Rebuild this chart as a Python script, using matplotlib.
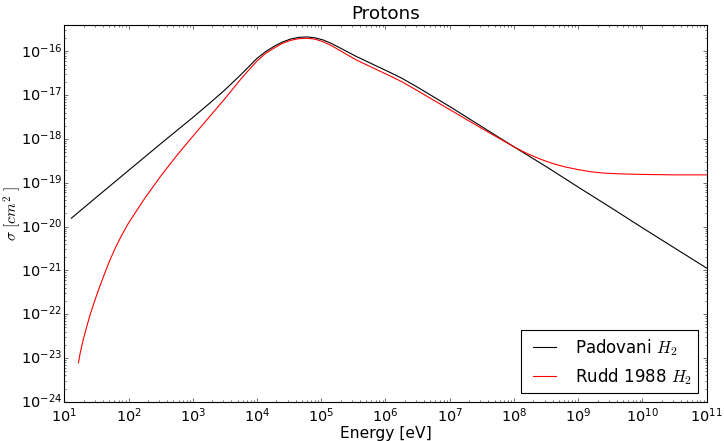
import numpy as np
import matplotlib
matplotlib.use("Agg")
import matplotlib.pyplot as plt

# values (log10 of energy in eV, log10 of sigma in cm^2)
pad_logE = [1.11, 1.5, 2.0, 2.5, 3.0, 3.25, 3.5, 3.75, 4.0, 4.13, 4.26, 4.39,
            4.52, 4.65, 4.78, 4.90, 5.03, 5.16, 5.29, 5.42, 5.55, 5.68, 5.81,
            5.94, 6.07, 6.25, 6.5, 7.0, 7.5, 8.0, 8.5, 9.0, 9.5, 10.0, 10.5,
            11.0]
pad_logsig = [-19.81, -19.33, -18.72, -18.11, -17.51, -17.20, -16.88, -16.53,
              -16.16, -16.01, -15.89, -15.79, -15.72, -15.68, -15.67, -15.69,
              -15.74, -15.82, -15.92, -16.02, -16.12, -16.21, -16.30, -16.39,
              -16.48, -16.61, -16.82, -17.26, -17.72, -18.18, -18.63, -19.10,
              -19.56, -20.03, -20.49, -20.95]

rudd_logE = [1.22, 1.25, 1.3, 1.4, 1.5, 1.6, 1.7, 1.8, 1.9, 2.0, 2.25, 2.5,
             2.75, 3.0, 3.25, 3.5, 3.75, 3.9, 4.0, 4.13, 4.26, 4.39, 4.52,
             4.65, 4.78, 4.90, 5.03, 5.16, 5.29, 5.42, 5.55, 5.68, 5.81, 5.94,
             6.07, 6.25, 6.5, 7.0, 7.5, 8.0, 8.2, 8.41, 8.6, 8.8, 9.0, 9.2,
             9.4, 9.7, 10.0, 10.5, 11.0]
rudd_logsig = [-23.11, -22.87, -22.55, -22.02, -21.58, -21.18, -20.80, -20.47,
               -20.18, -19.92, -19.36, -18.85, -18.38, -17.94, -17.51, -17.08,
               -16.63, -16.38, -16.22, -16.05, -15.93, -15.82, -15.75, -15.71,
               -15.70, -15.72, -15.78, -15.87, -15.98, -16.09, -16.20, -16.29,
               -16.38, -16.47, -16.56, -16.69, -16.90, -17.33, -17.76, -18.18,
               -18.33, -18.46, -18.56, -18.64, -18.70, -18.75, -18.78, -18.80,
               -18.81, -18.82, -18.82]

plt.style.use('classic')
plt.rcParams['figure.facecolor'] = 'white'
plt.rcParams['savefig.facecolor'] = 'white'
plt.rcParams['font.size'] = 14
plt.rcParams['xtick.labelsize'] = 13
plt.rcParams['ytick.labelsize'] = 13
plt.rcParams['axes.unicode_minus'] = False

fig = plt.figure(figsize=(724 / 80, 441 / 80), dpi=80)
ax = fig.add_axes([0.0888, 0.0891, 0.9761 - 0.0888, 0.9433 - 0.0891])

ax.plot(10 ** np.array(pad_logE), 10 ** np.array(pad_logsig), 'k-',
        label=r'Padovani $H_2$')
ax.plot(10 ** np.array(rudd_logE), 10 ** np.array(rudd_logsig), 'r-',
        label=r'Rudd 1988 $H_2$')

ax.set_xscale('log')
ax.set_yscale('log')
ax.set_xlim(1e1, 1e11)
ax.set_ylim(1e-24, 4e-16)
ax.tick_params(axis='y', pad=2)
ax.set_xlabel('Energy [eV]', labelpad=1)
ax.set_ylabel(r'$\sigma\ [cm^2\ ]$', fontsize=14)
ax.yaxis.set_label_coords(-0.064, 0.5)
ax.set_title('Protons', fontsize=16.5)
ax.legend(loc='lower right', fontsize=15)

fig.savefig('out.png', dpi=80)
